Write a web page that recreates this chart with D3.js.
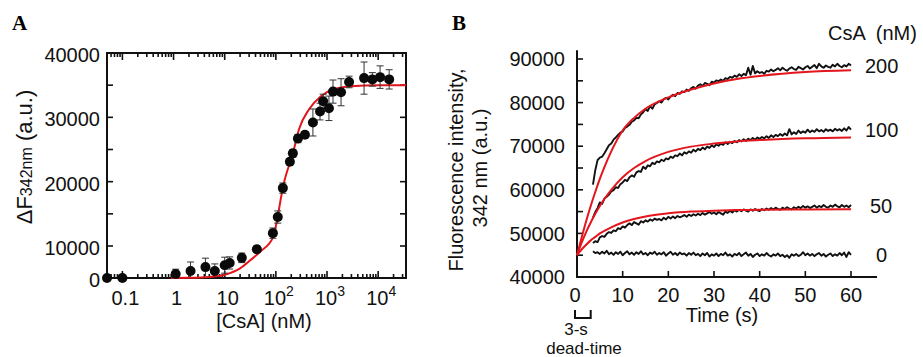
<!DOCTYPE html>
<html><head><meta charset="utf-8">
<script src="https://cdn.jsdelivr.net/npm/d3@7"></script>
<style>
body{margin:0;background:#fff}
svg{display:block;font-family:"Liberation Sans",Arial,sans-serif}
</style></head><body>
<svg id="c" width="923" height="357"></svg>
<script>
// ---------- Panel A data ----------
const concA = [0.05, 0.1, 1.1, 2.15, 4.2, 6.4, 10, 12.5, 21.6, 42.5, 87.5, 109, 137, 188, 215, 270, 370, 530, 730, 840, 1090, 1310, 1880, 2700, 5300, 7700, 10900, 16400];
const dfA = [0, 0, 1250, 2200, 3400, 2200, 4000, 4700, 6300, 9000, 12000, 14500, 19000, 23100, 24400, 26700, 27300, 29200, 30900, 32500, 31400, 34000, 33900, 35500, 36100, 35900, 36250, 35900];
const errA = [0, 0, 1500, 2800, 2800, 2200, 2500, 1900, 1500, 1000, 800, 950, 800, 500, 600, 650, 500, 2100, 1300, 1100, 1900, 1800, 2100, 900, 2500, 1050, 1750, 1500];
const fitConcA = [0.9, 2, 5, 10, 20, 32, 50, 87, 144, 225, 282, 445, 760, 1380, 2980, 10000, 35000];
const fitDfA = [0, 50, 300, 1000, 3000, 5600, 8300, 11250, 19840, 25000, 28100, 31250, 33280, 34400, 34840, 35000, 35000];
const yTickLabelsA = [0, 10000, 20000, 30000, 40000];
const yTickMarksA = [10000, 15000, 20000, 25000, 30000, 35000];
const xTickValsA = [0.1, 1, 10, 100, 1000, 10000];
const xTickLabelsA = [["0.1", ""], ["1", ""], ["10", ""], ["10", "2"], ["10", "3"], ["10", "4"]];

// ---------- Panel B data ----------
const traceStart = 3.5, traceStep = 0.5; // sampling of the recorded traces (s)
const trace200 = [61.2,64.5,66.8,67.4,67.6,68.4,69.3,70.2,70.6,71.5,72.0,72.6,73.1,73.4,74.2,74.5,74.9,75.6,75.9,76.5,76.4,77.3,77.8,78.5,78.1,79.2,78.6,79.6,79.9,80.3,80.0,80.8,81.1,80.7,81.4,81.8,81.5,82.2,82.0,82.6,82.4,83.0,82.7,83.3,83.6,83.2,83.9,84.2,83.8,84.5,84.3,84.0,84.8,84.6,85.1,84.9,85.3,85.0,85.6,85.4,85.9,85.7,86.2,85.9,86.5,86.1,86.6,86.3,88.0,86.4,88.4,86.7,87.2,86.8,87.0,86.6,87.3,87.1,87.6,87.2,87.5,87.9,87.4,88.0,87.6,87.3,87.8,88.1,87.7,87.5,88.2,87.9,87.6,88.1,88.4,87.8,88.2,88.6,87.9,88.9,88.3,88.0,88.5,88.2,88.0,88.7,88.3,88.9,88.4,88.1,88.6,88.3,88.9,88.5];
const trace100 = [53.6,54.9,55.8,57.1,56.8,58.0,58.4,58.9,59.6,59.9,60.6,60.4,61.3,61.7,62.3,62.0,62.9,63.3,63.0,64.0,64.3,64.1,65.3,64.8,65.6,65.4,66.2,65.9,66.5,66.3,66.9,66.6,67.2,67.0,67.6,67.3,67.9,67.7,68.3,67.9,68.6,68.3,68.8,68.5,69.2,68.8,69.4,69.1,69.7,69.3,69.9,69.6,70.2,69.8,70.4,70.1,70.6,70.3,70.9,70.5,71.0,70.7,71.2,70.9,71.4,71.1,71.6,71.2,71.7,71.4,71.9,71.5,72.0,71.7,72.1,71.8,72.3,71.9,72.5,72.1,72.6,72.3,72.8,72.4,72.9,72.5,73.9,72.7,73.2,72.8,73.6,73.0,73.4,73.1,73.8,73.2,73.6,73.3,73.9,73.4,73.7,73.3,73.9,73.5,73.8,73.4,74.0,73.6,73.9,73.5,74.1,73.6,74.4,73.8];
const trace50 = [47.8,48.2,48.0,49.1,49.4,49.2,49.9,50.3,50.1,50.7,50.5,51.2,51.0,51.6,51.3,51.9,52.3,51.9,52.6,52.3,52.0,52.8,52.5,53.0,52.7,53.2,52.9,53.4,53.1,53.3,53.0,53.6,53.2,53.8,53.4,53.9,53.5,54.0,53.7,53.9,54.2,53.8,54.3,54.0,54.4,54.1,54.5,54.2,54.7,54.3,54.6,54.9,54.5,54.8,54.4,54.9,54.6,54.3,55.0,54.7,55.2,54.8,55.3,55.0,55.4,55.1,55.5,55.2,55.0,55.5,55.2,55.6,55.3,55.1,55.6,55.3,55.7,55.4,55.8,55.5,55.9,55.6,55.4,55.9,55.6,56.0,55.7,55.5,56.0,55.7,56.1,55.8,56.3,55.9,56.2,55.8,56.1,56.4,55.9,56.3,56.0,56.5,56.1,55.9,56.4,56.1,56.6,56.2,56.0,56.5,56.1,56.4,56.0,56.5];
const trace0 = [45.9,45.5,45.7,45.3,45.8,45.4,46.0,45.2,45.6,45.1,45.7,45.3,45.8,45.0,45.5,45.9,45.2,45.6,45.1,45.7,45.3,45.9,45.2,45.5,45.0,45.6,45.3,45.8,45.1,45.5,45.2,45.7,44.9,45.4,45.8,45.1,45.5,45.0,45.6,45.2,45.4,44.9,45.5,45.1,45.6,45.0,45.3,44.8,45.4,45.0,45.5,44.7,45.2,44.9,45.4,44.8,45.3,45.0,45.6,44.9,45.2,44.7,45.3,45.0,45.5,44.8,45.2,45.6,44.9,45.3,44.6,45.1,45.4,44.8,45.2,44.9,45.5,45.0,44.7,45.2,44.9,45.4,44.8,45.1,44.6,45.0,44.4,45.2,44.9,45.3,44.8,45.1,45.7,45.0,45.4,44.9,45.3,44.8,45.2,45.5,44.9,45.3,44.7,45.1,45.4,44.8,45.2,44.9,45.5,45.0,45.6,44.6,45.7,45.1];
const fitTimeB = [0, 1, 2, 3, 4, 5, 6, 7.5, 10, 12.5, 15, 20, 25, 30, 35, 40, 50, 60];
const fit200 = [45, 49, 52.8, 56.3, 59.5, 62.5, 65.2, 68.8, 73.6, 76.5, 78.6, 81.2, 83, 84.4, 85.4, 86.1, 87, 87.4];
const fit100 = [45, 47.8, 50.3, 52.5, 54.5, 56.3, 57.9, 60, 62.9, 65, 66.6, 68.7, 69.9, 70.6, 71.1, 71.4, 71.8, 72.0];
const fit50 = [45, 46.3, 47.4, 48.4, 49.2, 50, 50.6, 51.4, 52.5, 53.3, 53.9, 54.6, 55, 55.2, 55.35, 55.45, 55.5, 55.55];
const seriesLabelsB = ["200", "100", "50", "0"];
const yTickLabelsB = [40000, 50000, 60000, 70000, 80000, 90000];
const yTickMarksB = [45000, 50000, 55000, 60000, 65000, 70000, 75000, 80000, 85000, 90000];
const xTickValsB = [0, 10, 20, 30, 40, 50, 60];

const RED = "#e3151d";
const svg = d3.select("#c");

// ================= Panel A =================
const xA = d3.scaleLog().domain([0.05, 35000]).range([107, 406]);
const yA = d3.scaleLinear().domain([0, 10000, 40000]).range([278, 246, 53]);
const gA = svg.append("g");
const [ax0, ax1] = xA.range(); const ayB = 278, ayT = 53;

svg.append("text").attr("x", 12).attr("y", 30).text("A")
  .attr("font-family", "'Liberation Serif',serif").attr("font-weight", "bold").attr("font-size", 21);

// frame
gA.append("rect").attr("x", ax0).attr("y", ayT).attr("width", ax1 - ax0).attr("height", ayB - ayT)
  .attr("fill", "none").attr("stroke", "#111").attr("stroke-width", 2);

// x ticks (log, minor + major) top and bottom, inward
const allTicksA = xA.ticks().filter(v => v > 0.05 && v < 35000);
const isMajor = v => Math.abs(Math.log10(v) - Math.round(Math.log10(v))) < 1e-9;
allTicksA.forEach(v => {
  const L = isMajor(v) ? 7 : 4;
  const x = xA(v);
  gA.append("line").attr("x1", x).attr("x2", x).attr("y1", ayB).attr("y2", ayB - L).attr("stroke", "#111").attr("stroke-width", 1.6);
  gA.append("line").attr("x1", x).attr("x2", x).attr("y1", ayT).attr("y2", ayT + L).attr("stroke", "#111").attr("stroke-width", 1.6);
});
// y ticks left and right, inward
yTickMarksA.forEach(v => {
  const y = yA(v);
  gA.append("line").attr("x1", ax0).attr("x2", ax0 + 6).attr("y1", y).attr("y2", y).attr("stroke", "#111").attr("stroke-width", 1.6);
  gA.append("line").attr("x1", ax1).attr("x2", ax1 - 6).attr("y1", y).attr("y2", y).attr("stroke", "#111").attr("stroke-width", 1.6);
});
// y tick labels
yTickLabelsA.forEach(v => {
  gA.append("text").attr("x", 100).attr("y", yA(v)).attr("dy", "0.45em").attr("text-anchor", "end")
    .attr("font-size", 20).attr("fill", "#111").text(v);
});
// x tick labels
xTickValsA.forEach((v, i) => {
  const t = gA.append("text").attr("x", xA(v) + 3).attr("y", 305).attr("text-anchor", "middle")
    .attr("font-size", 20).attr("fill", "#111");
  t.append("tspan").text(xTickLabelsA[i][0]);
  if (xTickLabelsA[i][1]) t.append("tspan").attr("dy", -9).attr("font-size", 14).text(xTickLabelsA[i][1]);
});
// axis titles
gA.append("text").attr("x", 264).attr("y", 328).attr("text-anchor", "middle").attr("font-size", 20).attr("fill", "#111").text("[CsA] (nM)");
const yl = gA.append("text").attr("transform", "translate(32,157) rotate(-90)").attr("text-anchor", "middle")
  .attr("font-size", 22).attr("fill", "#111");
yl.append("tspan").text("ΔF");
yl.append("tspan").attr("font-size", 16).text("342nm");
yl.append("tspan").text(" (a.u.)");

// fit curve
const lineA = d3.line().x((d, i) => xA(fitConcA[i])).y(d => yA(d)).curve(d3.curveMonotoneX);
gA.append("path").attr("d", lineA(fitDfA)).attr("fill", "none").attr("stroke", RED).attr("stroke-width", 2);

// error bars
concA.forEach((c, i) => {
  if (!errA[i]) return;
  const x = xA(c);
  const yT = yA(dfA[i] + errA[i]);
  const yBraw = yA(Math.max(0, dfA[i] - errA[i]));
  const yB = Math.min(yBraw, ayB - 1);
  gA.append("line").attr("x1", x).attr("x2", x).attr("y1", yT).attr("y2", yB).attr("stroke", "#333").attr("stroke-width", 1);
  gA.append("line").attr("x1", x - 3.5).attr("x2", x + 3.5).attr("y1", yT).attr("y2", yT).attr("stroke", "#333").attr("stroke-width", 1);
  if (yBraw < ayB - 2) gA.append("line").attr("x1", x - 3.5).attr("x2", x + 3.5).attr("y1", yB).attr("y2", yB).attr("stroke", "#333").attr("stroke-width", 1);
});
// points
gA.selectAll("circle.pt").data(dfA).enter().append("circle")
  .attr("cx", (d, i) => xA(concA[i])).attr("cy", d => yA(d)).attr("r", 5).attr("fill", "#0a0a0a");

// ================= Panel B =================
const xB = d3.scaleLinear().domain([0, 60]).range([577, 851]);
const yB = d3.scaleLinear().domain([40000, 90000]).range([277, 59]);
const gB = svg.append("g");

svg.append("text").attr("x", 452).attr("y", 30).text("B")
  .attr("font-family", "'Liberation Serif',serif").attr("font-weight", "bold").attr("font-size", 21);

// axes lines
gB.append("line").attr("x1", xB(0)).attr("x2", xB(0)).attr("y1", yB(40000) + 1).attr("y2", yB(92000)).attr("stroke", "#111").attr("stroke-width", 2);
gB.append("line").attr("x1", xB(0) - 1).attr("x2", xB(65.7)).attr("y1", yB(40000)).attr("y2", yB(40000)).attr("stroke", "#111").attr("stroke-width", 2);
yTickMarksB.forEach(v => {
  gB.append("line").attr("x1", xB(0)).attr("x2", xB(0) + 6).attr("y1", yB(v)).attr("y2", yB(v)).attr("stroke", "#111").attr("stroke-width", 1.6);
});
xTickValsB.filter(v => v > 0).forEach(v => {
  gB.append("line").attr("x1", xB(v)).attr("x2", xB(v)).attr("y1", yB(40000)).attr("y2", yB(40000) - 6).attr("stroke", "#111").attr("stroke-width", 1.6);
});
yTickLabelsB.forEach(v => {
  gB.append("text").attr("x", 565).attr("y", yB(v)).attr("dy", "0.36em").attr("text-anchor", "end")
    .attr("font-size", 20).attr("fill", "#111").text(v);
});
xTickValsB.forEach(v => {
  gB.append("text").attr("x", xB(v) - (v === 0 ? 2 : 0)).attr("y", 302).attr("text-anchor", "middle")
    .attr("font-size", 20).attr("fill", "#111").text(v);
});
gB.append("text").attr("x", 722).attr("y", 322).attr("text-anchor", "middle").attr("font-size", 20).attr("fill", "#111").text("Time (s)");
gB.append("text").attr("transform", "translate(463,170) rotate(-90)").attr("text-anchor", "middle")
  .attr("font-size", 20).attr("fill", "#111").text("Fluorescence intensity,");
gB.append("text").attr("transform", "translate(487,168) rotate(-90)").attr("text-anchor", "middle")
  .attr("font-size", 20).attr("fill", "#111").text("342 nm (a.u.)");
gB.append("text").attr("x", 828).attr("y", 40).attr("font-size", 20).attr("fill", "#111")
  .style("white-space", "pre").text("CsA  (nM)");

// dead-time bracket
gB.append("path").attr("d", `M${xB(0) - 2},${310}V${318}H${xB(3)}V${310}`)
  .attr("fill", "none").attr("stroke", "#111").attr("stroke-width", 2);
gB.append("text").attr("x", 576).attr("y", 335).attr("text-anchor", "middle").attr("font-size", 17).attr("fill", "#111").text("3-s");
gB.append("text").attr("x", 584).attr("y", 354).attr("text-anchor", "middle").attr("font-size", 17).attr("fill", "#111").text("dead-time");

// traces
const traceLine = d3.line().x((d, i) => xB(traceStart + i * traceStep)).y(d => yB(d * 1000));
[trace200, trace100, trace50, trace0].forEach(tr => {
  gB.append("path").attr("d", traceLine(tr)).attr("fill", "none").attr("stroke", "#111").attr("stroke-width", 1.9).attr("stroke-linejoin", "round");
});
// fits
const fitLine = d3.line().x((d, i) => xB(fitTimeB[i])).y(d => yB(d * 1000)).curve(d3.curveMonotoneX);
[fit200, fit100, fit50].forEach(f => {
  gB.append("path").attr("d", fitLine(f)).attr("fill", "none").attr("stroke", RED).attr("stroke-width", 2);
});
// series labels at trace ends
const ends = [trace200, trace100, trace50, trace0].map(t => d3.mean(t.slice(-10)));
const labelX = [865, 865, 870, 876];
seriesLabelsB.forEach((s, i) => {
  gB.append("text").attr("x", labelX[i]).attr("y", yB(ends[i] * 1000)).attr("dy", "0.36em")
    .attr("font-size", 20).attr("fill", "#111").text(s);
});
</script>
</body></html>
